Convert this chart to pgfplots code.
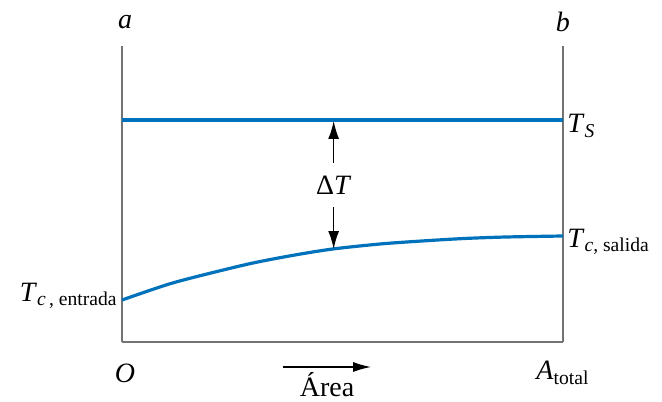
\documentclass[border=0pt]{standalone}
\usepackage{pgfplots}
\pgfplotsset{compat=1.18}
\usepackage{amsmath}
\usepackage{fontspec}
\setmainfont{Liberation Serif}
\usetikzlibrary{arrows.meta}
\definecolor{lineblue}{RGB}{0,114,188}
\definecolor{axgray}{RGB}{115,115,115}
\begin{document}
\begin{tikzpicture}[font=\fontsize{14}{16}\selectfont]
\begin{axis}[
  x=220.5pt, y=0.5pt,
  xmin=0, xmax=1, ymin=0, ymax=296,
  axis x line=bottom, axis y line=box,
  axis line style={-, axgray, line width=1pt},
  xtick=\empty, ytick=\empty,
  clip=false,
]
\addplot[lineblue, line width=1.6pt] coordinates {(0,222) (1,222)};
\addplot[lineblue, line width=1.6pt, smooth] coordinates {
  (0,42) (0.107,58) (0.202,69) (0.297,79) (0.392,87) (0.478,93)
  (0.585,98) (0.680,101) (0.776,103.5) (0.871,105) (1.0,106)};
\node at (axis cs:0.007,320) {\textit{a}};
\node at (axis cs:1,320) {\textit{b}};
\node[anchor=west, inner sep=2pt] at (axis cs:1,216) {\textit{T}$_{\textit{S}}$};
\node[anchor=west, inner sep=2pt] at (axis cs:1,100) {\textit{T}$_{\textit{c}\text{, salida}}$};
\node[anchor=east, inner sep=2pt] at (axis cs:0,46) {\textit{T}$_{\textit{c}\,\text{, entrada}}$};
\node (dt) at (axis cs:0.48,157) {\textup{Δ}\textit{T}};
\draw[-{Latex[length=9pt,width=5.5pt]}, black, line width=0.7pt] ([yshift=3pt]dt.north) -- (axis cs:0.48,221);
\draw[-{Latex[length=9pt,width=5.5pt]}, black, line width=0.7pt] ([yshift=-3pt]dt.south) -- (axis cs:0.48,93);
\node at (axis cs:0.007,-31) {\textit{O}};
\node at (axis cs:1,-31) {\textit{A}$_{\text{total}}$};
\draw[-{Latex[length=9pt,width=5pt]}, black, line width=0.8pt] (axis cs:0.365,-25) -- (axis cs:0.565,-25);
\node[inner sep=1pt] at (axis cs:0.465,-43) {Área};
\coordinate (bbsw) at (axis cs:-0.2766,-59);
\coordinate (bbne) at (axis cs:1.2245,342);
\end{axis}
\pgfresetboundingbox
\path (bbsw) rectangle (bbne);
\end{tikzpicture}
\end{document}
